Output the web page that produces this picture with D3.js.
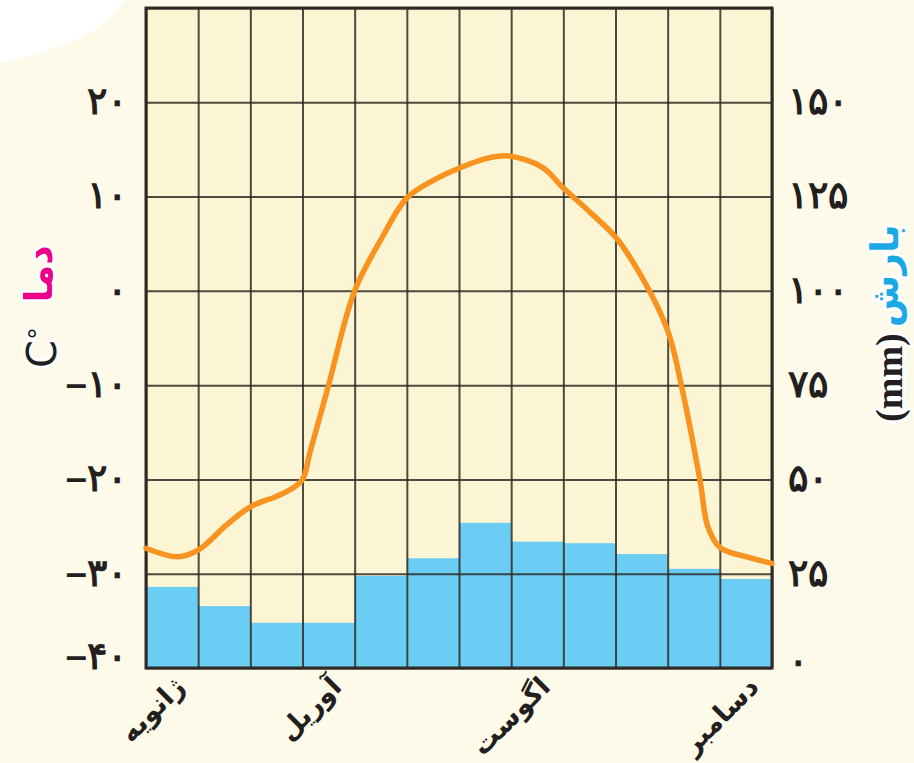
<!DOCTYPE html>
<html>
<head>
<meta charset="utf-8">
<script src="https://cdn.jsdelivr.net/npm/d3@7"></script>
<style>
  html, body { margin: 0; padding: 0; background: #fefae9; }
  svg { display: block; font-family: "DejaVu Sans", sans-serif; }
</style>
</head>
<body>
<div id="chart"></div>
<script>
// Months (only four of them carry a label under the axis)
const months = ["ژانویه", "فوریه", "مارس", "آوریل", "مه", "ژوئن", "ژوئیه", "اگوست", "سپتامبر", "اکتبر", "نوامبر", "دسامبر"];
const shownMonths = ["ژانویه", "آوریل", "اگوست", "دسامبر"];

// Precipitation per month (mm)
const precipitation = [21.5, 16.4, 12, 12, 24.4, 29.1, 38.5, 33.5, 33.1, 30.2, 26.3, 23.6];

// Temperature curve: position in months from the start of January, value in °C
const tempPos = [0, 0.61, 1, 1.55, 2, 2.5, 2.76, 3, 3.14, 3.49, 4, 4.5, 5, 5.5, 6, 6.5, 6.95, 7.6, 8, 8.5, 9, 9.5, 10, 10.27, 10.62, 10.77, 11, 11.5, 12];
const tempVal = [-27.3, -28.2, -27.5, -24.8, -22.9, -21.8, -21.1, -20, -17.2, -10.2, 0, 5.4, 9.85, 11.7, 13, 14, 14.3, 13.1, 10.9, 8.4, 5.7, 1.5, -4.2, -10.2, -20.1, -25, -27.2, -28.2, -28.9];

// Axis ticks
const tempTicks = [-40, -30, -20, -10, 0, 10, 20];
const tempTickLabels = ["–۴۰", "–۳۰", "–۲۰", "–۱۰", "۰", "۱۰", "۲۰"];
const precipTicks = [0, 25, 50, 75, 100, 125, 150];
const precipTickLabels = ["۰", "۲۵", "۵۰", "۷۵", "۱۰۰", "۱۲۵", "۱۵۰"];

const width = 914;
const height = 763;
const marginTop = 8;
const marginRight = 142;
const marginBottom = 95;
const marginLeft = 146;

const svg = d3.select("#chart")
  .append("svg")
    .attr("width", width)
    .attr("height", height)
    .attr("viewBox", [0, 0, width, height]);

// page background with the torn white corner
svg.append("rect").attr("width", width).attr("height", height).attr("fill", "#fefae9");
svg.append("path")
    .attr("d", "M0,0 L124,0 C116,14 102,27 82,37 C57,49 27,57 0,63 Z")
    .attr("fill", "#ffffff");

// scales
const x = d3.scaleBand()
    .domain(months)
    .range([marginLeft, width - marginRight])
    .padding(0);

const xPos = d3.scaleLinear()
    .domain([0, 12])
    .range([marginLeft, width - marginRight]);

const yT = d3.scaleLinear()
    .domain([-40, 30])
    .range([height - marginBottom, marginTop]);

const yP = d3.scaleLinear()
    .domain([0, 175])
    .range([height - marginBottom, marginTop]);

const plotW = width - marginLeft - marginRight;
const plotH = height - marginTop - marginBottom;

// plot background
svg.append("rect")
    .attr("x", marginLeft)
    .attr("y", marginTop)
    .attr("width", plotW)
    .attr("height", plotH)
    .attr("fill", "#fcf5d4");

// precipitation bars
svg.append("g")
    .attr("fill", "#6ccdf4")
  .selectAll()
  .data(precipitation)
  .join("rect")
    .attr("x", (d, i) => x(months[i]))
    .attr("y", d => yP(d))
    .attr("width", x.bandwidth())
    .attr("height", d => yP(0) - yP(d));

// grid
svg.append("g")
    .attr("transform", `translate(${marginLeft},0)`)
    .call(d3.axisLeft(yT).tickValues(d3.range(-40, 31, 10)).tickSize(-plotW).tickFormat(""))
    .call(g => g.select(".domain").remove())
    .call(g => g.selectAll("line").attr("stroke", "#2e2b26").attr("stroke-opacity", 0.85).attr("stroke-width", 2));

svg.append("g")
    .attr("transform", `translate(0,${height - marginBottom})`)
    .call(d3.axisBottom(xPos).tickValues(d3.range(0, 13)).tickSize(-plotH).tickFormat(""))
    .call(g => g.select(".domain").remove())
    .call(g => g.selectAll("line").attr("stroke", "#2e2b26").attr("stroke-opacity", 0.85).attr("stroke-width", 2));

svg.append("rect")
    .attr("x", marginLeft)
    .attr("y", marginTop)
    .attr("width", plotW)
    .attr("height", plotH)
    .attr("fill", "none")
    .attr("stroke", "#2e2b26")
    .attr("stroke-width", 3);

// temperature line
const line = d3.line()
    .x((d, i) => xPos(tempPos[i]))
    .y(d => yT(d))
    .curve(d3.curveCatmullRom.alpha(0.5));

svg.append("path")
    .datum(tempVal)
    .attr("fill", "none")
    .attr("stroke", "#f7931e")
    .attr("stroke-width", 5.5)
    .attr("stroke-linecap", "round")
    .attr("d", line);

// left axis (temperature)
svg.append("g")
    .attr("transform", `translate(${marginLeft},0)`)
    .call(d3.axisLeft(yT).tickValues(tempTicks).tickSize(0).tickPadding(19)
      .tickFormat((d, i) => tempTickLabels[i]))
    .call(g => g.select(".domain").remove())
    .call(g => g.selectAll("text")
      .attr("font-size", 38)
      .attr("font-weight", "bold")
      .attr("fill", "#231f20")
      .attr("dy", d => d === -40 ? "0" : "0.3em"));

// right axis (precipitation)
svg.append("g")
    .attr("transform", `translate(${width - marginRight},0)`)
    .call(d3.axisRight(yP).tickValues(precipTicks).tickSize(0).tickPadding(16)
      .tickFormat((d, i) => precipTickLabels[i]))
    .call(g => g.select(".domain").remove())
    .call(g => g.selectAll("text")
      .attr("font-size", 38)
      .attr("font-weight", "bold")
      .attr("fill", "#231f20")
      .attr("dy", d => d === 0 ? "0.15em" : "0.3em"));

// month labels
svg.append("g")
  .selectAll()
  .data(shownMonths)
  .join("text")
    .attr("transform", d => `translate(${x(d) + x.bandwidth() / 2 + 3},${height - marginBottom + 9}) rotate(-45)`)
    .attr("text-anchor", "end")
    .attr("dy", "0.6em")
    .attr("font-size", 27)
    .attr("font-weight", "bold")
    .attr("fill", "#231f20")
    .text(d => d);

// axis titles
const halo = g => g.attr("stroke", "#ffffff").attr("stroke-width", 6)
    .attr("stroke-linejoin", "round").attr("paint-order", "stroke");

svg.append("text")
    .attr("transform", `translate(52,${yT(1.8)}) rotate(-90)`)
    .attr("text-anchor", "middle")
    .attr("font-size", 38)
    .attr("font-weight", "bold")
    .attr("fill", "#ec008c")
    .text("دما")
    .call(halo);

svg.append("text")
    .attr("transform", `translate(56,${yT(-6)}) rotate(-90)`)
    .attr("text-anchor", "middle")
    .attr("font-size", 40)
    .attr("fill", "#231f20")
    .call(halo)
    .call(t => t.append("tspan").text("C"))
    .call(t => t.append("tspan").attr("dy", "-0.3em").attr("font-size", 26).text("°"));

svg.append("text")
    .attr("transform", `translate(898,${yP(104)}) rotate(-90)`)
    .attr("text-anchor", "middle")
    .attr("font-size", 38)
    .attr("font-weight", "bold")
    .attr("fill", "#1ba9e6")
    .text("بارش")
    .call(halo);

svg.append("text")
    .attr("transform", `translate(902,${yP(77)}) rotate(-90)`)
    .attr("text-anchor", "middle")
    .attr("font-family", "Liberation Serif, serif")
    .attr("font-size", 38)
    .attr("font-weight", "bold")
    .attr("fill", "#231f20")
    .text("(mm)")
    .call(halo);
</script>
</body>
</html>
